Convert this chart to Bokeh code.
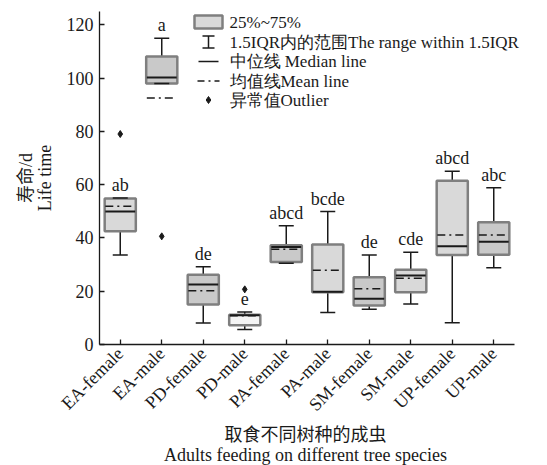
import math
from bokeh.plotting import figure
from bokeh.models import ColumnDataSource, Range1d, FixedTicker, LabelSet
from bokeh.transform import dodge
from bokeh.embed import file_html
from bokeh.resources import INLINE

# ---------------- data ----------------
categories = ["EA-female", "EA-male", "PD-female", "PD-male", "PA-female",
              "PA-male", "SM-female", "SM-male", "UP-female", "UP-male"]
q1 = [42.5, 98.0, 15.0, 7.2, 31.0, 19.6, 14.6, 19.6, 33.6, 33.7]
q3 = [54.8, 108.1, 26.2, 11.2, 37.3, 37.5, 25.2, 28.1, 61.5, 45.9]
medians = [49.9, 100.2, 22.5, 11.0, 36.6, 19.8, 17.2, 25.9, 36.9, 38.6]
means = [51.9, 92.5, 20.2, 10.8, 35.8, 27.9, 20.9, 24.9, 41.1, 41.1]
lower = [33.6, 98.0, 8.1, 5.6, 30.5, 12.0, 13.2, 15.2, 8.2, 28.8]
upper = [55.0, 115.0, 29.2, 12.2, 44.6, 49.9, 33.6, 34.6, 65.0, 58.8]
letters = ["ab", "a", "de", "e", "abcd", "bcde", "de", "cde", "abcd", "abc"]
outlier_cats = ["EA-female", "EA-male", "PD-male"]
outlier_vals = [79.0, 40.6, 20.7]
y_ticks = [0, 20, 40, 60, 80, 100, 120]
legend_labels = ["25%~75%", "1.5IQR内的范围The range within 1.5IQR",
                 "中位线 Median line", "均值线Mean line", "异常值Outlier"]
y_title = "寿命/d\nLife time"
x_title_lines = ["取食不同树种的成虫", "Adults feeding on different tree species"]

# ---------------- styles ----------------
box_fills = ["#d9d9d9", "#c9c9c9", "#c9c9c9", "#f4f4f4", "#c9c9c9",
             "#d9d9d9", "#c9c9c9", "#d9d9d9", "#d9d9d9", "#c9c9c9"]
FONT = "'Liberation Serif', 'Noto Sans CJK SC', serif"
FS = "18px"
BORDER = "#7f7f7f"
INK = "#1a1a1a"

n = len(categories)
xpos = list(range(n))
cat_index = {c: i for i, c in enumerate(categories)}

src = ColumnDataSource(dict(x=xpos, q1=q1, q3=q3, med=medians, mean=means,
                            lo=lower, hi=upper, lab=letters, fill=box_fills))
osrc = ColumnDataSource(dict(x=[cat_index[c] for c in outlier_cats], val=outlier_vals))

# frame spans to the right page edge so legend text is not clipped;
# the axis itself stops half a category after the last box
FW = 448
unit = 415 / n
p = figure(frame_width=FW, frame_height=333,
           x_range=Range1d(-0.5, -0.5 + FW / unit),
           y_range=Range1d(0, 125), output_backend="svg", toolbar_location=None,
           min_border_left=99, min_border_right=0, min_border_top=11, min_border_bottom=121)
p.background_fill_color = "white"
p.border_fill_color = "white"
p.outline_line_color = None
p.grid.visible = False

# stems
p.segment(x0="x", y0="q3", x1="x", y1="hi", source=src, line_color=INK, line_width=1.5)
p.segment(x0="x", y0="q1", x1="x", y1="lo", source=src, line_color=INK, line_width=1.5)
# boxes
p.vbar(x="x", width=0.75, bottom="q1", top="q3", source=src, fill_color="fill",
       line_color=BORDER, line_width=2.5)
# caps
p.scatter(x="x", y="hi", source=src, marker="dash", size=15, line_color=INK, line_width=1.5)
p.scatter(x="x", y="lo", source=src, marker="dash", size=15, line_color=INK, line_width=1.5)
# median
p.segment(x0=dodge("x", -0.36), y0="med", x1=dodge("x", 0.36), y1="med", source=src,
          line_color=INK, line_width=2)
# mean
p.segment(x0=dodge("x", -0.36), y0="mean", x1=dodge("x", 0.36), y1="mean", source=src,
          line_color=INK, line_width=1.5, line_dash="8 4 2 4")
# outliers
p.scatter(x="x", y="val", source=osrc, marker="diamond", size=7, color=INK)
# significance letters
p.add_layout(LabelSet(x="x", y="hi", text="lab", source=src, text_align="center",
                      text_baseline="middle", y_offset=13, text_font=FONT,
                      text_font_size=FS, text_color=INK))

# ---------------- legend (pixel coords within frame) ----------------
p.extra_x_ranges = {"lx": Range1d(0, FW)}
p.extra_y_ranges = {"ly": Range1d(333, 0)}
rows = [10.5, 30.5, 50, 69.5, 88.5]
gx = 109
p.quad(left=[95], right=[123], bottom=[rows[0] + 6.5], top=[rows[0] - 6.5],
       x_range_name="lx", y_range_name="ly", fill_color="#d9d9d9", line_color=BORDER, line_width=2.5)
p.segment(x0=[gx, gx - 6, gx - 6], y0=[rows[1] - 6, rows[1] - 6, rows[1] + 6],
          x1=[gx, gx + 6, gx + 6], y1=[rows[1] + 6, rows[1] - 6, rows[1] + 6],
          x_range_name="lx", y_range_name="ly", line_color=INK, line_width=1.5)
p.segment(x0=[gx - 10], y0=[rows[2]], x1=[gx + 10], y1=[rows[2]],
          x_range_name="lx", y_range_name="ly", line_color=INK, line_width=1.5)
p.segment(x0=[gx - 11], y0=[rows[3]], x1=[gx + 11], y1=[rows[3]],
          x_range_name="lx", y_range_name="ly", line_color=INK, line_width=1.5,
          line_dash="7 4 2 4")
p.scatter(x=[gx], y=[rows[4]], marker="diamond", size=7, color=INK,
          x_range_name="lx", y_range_name="ly")
lsrc = ColumnDataSource(dict(x=[130] * len(legend_labels), y=rows, t=legend_labels))
p.add_layout(LabelSet(x="x", y="y", text="t", source=lsrc, x_range_name="lx", y_range_name="ly",
                      text_align="left", text_baseline="middle", text_font=FONT,
                      text_font_size="17px", text_color=INK))

# ---------------- axes ----------------
for ax in (p.xaxis[0], p.yaxis[0]):
    ax.major_tick_in = 5
    ax.major_tick_out = 0
    ax.minor_tick_in = 0
    ax.minor_tick_out = 0
    ax.axis_line_color = INK
    ax.axis_line_width = 1.3
    ax.major_tick_line_color = INK
    ax.major_tick_line_width = 1.3
    ax.major_label_text_font = FONT
    ax.major_label_text_font_size = FS
    ax.major_label_text_color = INK
    ax.axis_label_text_font = FONT
    ax.axis_label_text_font_size = FS
    ax.axis_label_text_font_style = "normal"
    ax.axis_label_text_color = INK

p.yaxis.ticker = FixedTicker(ticks=y_ticks)
p.yaxis.major_label_standoff = 6
p.yaxis.axis_label = y_title
p.yaxis.axis_label_standoff = 9
p.yaxis.axis_label_text_line_height = 0.95
p.xaxis.bounds = (-0.5, n - 0.5)
p.xaxis.ticker = FixedTicker(ticks=xpos)
p.xaxis.major_label_overrides = {i: c for i, c in enumerate(categories)}
p.xaxis.major_label_orientation = math.pi / 4
p.xaxis.major_label_standoff = 6
# pad so the (frame-centred) title is centred under the axis, which ends before the frame does
pad = "\u00a0" * 8
p.xaxis.axis_label = "\n".join(line + pad for line in x_title_lines)
p.xaxis.axis_label_standoff = 0
p.xaxis.axis_label_text_line_height = 1.0

open("out.html", "w").write(file_html(p, INLINE))
